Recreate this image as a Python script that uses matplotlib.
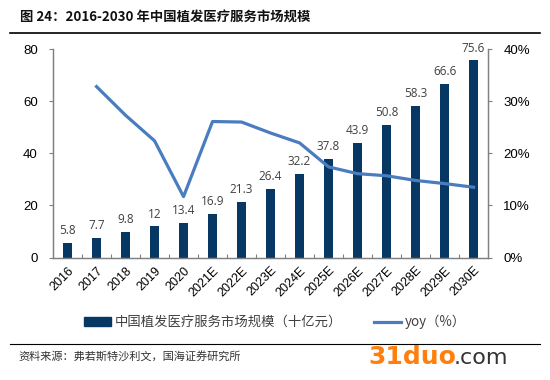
import matplotlib
matplotlib.use("Agg")
import matplotlib.pyplot as plt
from matplotlib.lines import Line2D
from matplotlib.patches import Patch

plt.rcParams['font.family'] = ['Noto Sans CJK SC', 'DejaVu Sans']

years = ["2016", "2017", "2018", "2019", "2020", "2021E", "2022E", "2023E",
         "2024E", "2025E", "2026E", "2027E", "2028E", "2029E", "2030E"]
market = [5.8, 7.7, 9.8, 12, 13.4, 16.9, 21.3, 26.4, 32.2, 37.8, 43.9, 50.8, 58.3, 66.6, 75.6]
market_labels = ["5.8", "7.7", "9.8", "12", "13.4", "16.9", "21.3", "26.4", "32.2",
                 "37.8", "43.9", "50.8", "58.3", "66.6", "75.6"]
yoy_years = years[1:]
yoy = [32.8, 27.3, 22.4, 11.7, 26.1, 26.0, 23.9, 22.0, 17.4, 16.1, 15.7, 14.8, 14.2, 13.5]

bar_color = "#073763"
line_color = "#4a7cc0"
spine_color = "#808080"
num_font = ['Liberation Sans', 'DejaVu Sans']

fig = plt.figure(figsize=(5.5, 3.8), dpi=100)
ax = fig.add_axes([0.0964, 0.322, 0.791, 0.549])
ax2 = ax.twinx()

x = list(range(len(years)))
ax.bar(x, market, width=0.31, color=bar_color, zorder=2)
for xi, v, lab in zip(x, market, market_labels):
    ax.text(xi, v + 2.2, lab, ha='center', va='bottom', fontsize=8.5, color='#404040',
            family=['Open Sans', 'DejaVu Sans'])

ax.set_ylim(0, 80)
ax.set_xlim(-0.5, len(years) - 0.5)
ax.set_yticks([0, 20, 40, 60, 80])
ax.tick_params(axis='y', labelsize=9.5, length=3, color=spine_color, pad=8)
for lab in ax.get_yticklabels():
    lab.set_family(num_font)

# x ticks at boundaries (inward), labels at centers
ax.set_xticks([i + 0.5 for i in range(len(years) - 1)])
ax.set_xticklabels([])
ax.tick_params(axis='x', direction='in', length=3, color=spine_color)
ax.set_xticks(x, minor=True)
ax.set_xticklabels(years, minor=True, rotation=45, ha='right', rotation_mode='anchor',
                   fontsize=9, family=num_font)
ax.tick_params(axis='x', which='minor', length=0, pad=5)

yoy_x = x[1:]
ax2.plot(yoy_x, yoy, color=line_color, lw=2.3, zorder=3)
ax2.set_ylim(0, 40)
ax2.set_yticks([0, 10, 20, 30, 40])
ax2.set_yticklabels(["0%", "10%", "20%", "30%", "40%"], family=num_font)
ax2.tick_params(axis='y', labelsize=9.5, length=3, color=spine_color, pad=8)

for a in (ax, ax2):
    a.spines['top'].set_visible(False)
    for s in ('left', 'right', 'bottom'):
        a.spines[s].set_color(spine_color)
        a.spines[s].set_linewidth(0.9)

# Title
fig.text(20/550, 1 - 17/380, "图 24：2016-2030 年中国植发医疗服务市场规模", fontsize=9.6,
         fontweight='bold', va='center', ha='left', color='#111111')
fig.add_artist(Line2D([10/550, 540/550], [1 - 33/380, 1 - 33/380], color='black', lw=1.2))
fig.add_artist(Line2D([10/550, 540/550], [1 - 344/380, 1 - 344/380], color='black', lw=0.8))

# Legend
handles = [Patch(facecolor=bar_color, edgecolor=bar_color),
           Line2D([0], [0], color=line_color, lw=2.3)]
labels = ["中国植发医疗服务市场规模（十亿元）", "yoy（%）"]
fig.legend(handles, labels, loc='center', bbox_to_anchor=(0.5, 1 - 322/380), ncol=2,
           frameon=False, fontsize=9.6, handlelength=2.0, handleheight=0.55,
           handletextpad=0.3, columnspacing=2.4, labelcolor='#404040')

fig.text(18/550, 1 - 357/380, "资料来源：弗若斯特沙利文，国海证券研究所", fontsize=8,
         va='center', ha='left', color='#333333')
fig.text(368/550, 1 - 357/380, "31duo", fontsize=18, fontweight='bold',
         color='#ff7f0e', va='center', ha='left', family=['DejaVu Sans'])
fig.text(454/550, 1 - 358/380, ".com", fontsize=16, color='#333333', va='center',
         ha='left', family=['DejaVu Sans'])

fig.savefig("out.png", dpi=100)
